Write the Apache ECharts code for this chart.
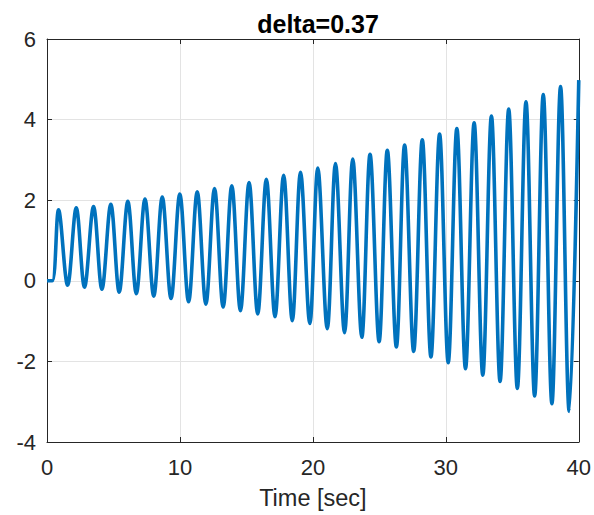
<!DOCTYPE html>
<html>
<head>
<meta charset="utf-8">
<script src="https://cdn.jsdelivr.net/npm/echarts@6/dist/echarts.min.js"></script>
<style>html,body{margin:0;padding:0;background:#fff;}#chart{width:594px;height:515px;}</style>
</head>
<body>
<div id="chart"></div>
<script>
// ---- data ----
const titleText = 'delta=0.37';
const xLabelText = 'Time [sec]';
const xTickValues = [0, 10, 20, 30, 40];
const yTickValues = [-4, -2, 0, 2, 4, 6];

// initial flat part of the response
const startTimes = [0, 0.4];
const startValues = [0, 0];

// local maxima
const peakTimes = [0.87, 2.20, 3.50, 4.80, 6.08, 7.37, 8.67, 9.99, 11.30, 12.60,
  13.90, 15.20, 16.50, 17.80, 19.07, 20.37, 21.70, 23.00, 24.30, 25.60,
  26.90, 28.23, 29.53, 30.83, 32.13, 33.43, 34.73, 36.03, 37.33, 38.63];
const peakValues = [1.76, 1.81, 1.84, 1.90, 1.97, 2.03, 2.08, 2.15, 2.21, 2.29,
  2.36, 2.44, 2.52, 2.62, 2.69, 2.80, 2.91, 3.02, 3.14, 3.24,
  3.37, 3.50, 3.64, 3.78, 3.92, 4.09, 4.26, 4.44, 4.62, 4.82];

// local minima
const troughTimes = [1.55, 2.82, 4.13, 5.43, 6.72, 8.03, 9.33, 10.65, 11.95, 13.25,
  14.55, 15.85, 17.15, 18.45, 19.77, 21.08, 22.38, 23.68, 24.98, 26.28,
  27.58, 28.88, 30.18, 31.48, 32.78, 34.08, 35.38, 36.68, 37.98, 39.28];
const troughValues = [-0.11, -0.16, -0.21, -0.28, -0.32, -0.38, -0.44, -0.52, -0.58, -0.65,
  -0.74, -0.82, -0.89, -0.99, -1.06, -1.19, -1.29, -1.40, -1.51, -1.64,
  -1.75, -1.89, -2.03, -2.18, -2.34, -2.50, -2.67, -2.86, -3.05, -3.24];

// final sample at the end of the simulation
const endTimes = [40];
const endValues = [4.98];

// ---- build series data ----
const pts = [];
startTimes.forEach((t, i) => pts.push([t, startValues[i]]));
peakTimes.forEach((t, i) => pts.push([t, peakValues[i]]));
troughTimes.forEach((t, i) => pts.push([t, troughValues[i]]));
endTimes.forEach((t, i) => pts.push([t, endValues[i]]));
pts.sort((a, b) => a[0] - b[0]);

const FONT = "'Liberation Sans', Arial, Helvetica, sans-serif";
const AX = '#262626';
const GRID = '#e3e3e3';

const xStep = xTickValues[1] - xTickValues[0];
const yStep = yTickValues[1] - yTickValues[0];

const chart = echarts.init(document.getElementById('chart'), null, {renderer: 'svg'});
chart.setOption({
  animation: false,
  backgroundColor: '#ffffff',
  title: {
    text: titleText,
    left: 313,
    textAlign: 'center',
    top: 6,
    textStyle: {fontFamily: FONT, fontSize: 25, fontWeight: 'bold', color: '#000'}
  },
  grid: {left: 47, right: 14, top: 39, bottom: 69, containLabel: false},
  xAxis: [{
    type: 'value',
    min: xTickValues[0], max: xTickValues[xTickValues.length - 1], interval: xStep,
    position: 'bottom',
    name: xLabelText, nameLocation: 'middle', nameGap: 44,
    nameTextStyle: {fontFamily: FONT, fontSize: 23.5, color: AX},
    axisLine: {show: true, onZero: false, lineStyle: {color: AX, width: 1}},
    axisTick: {show: true, inside: true, length: 5, lineStyle: {color: AX}},
    axisLabel: {fontFamily: FONT, fontSize: 22, color: AX, margin: 14},
    splitLine: {show: true, lineStyle: {color: GRID, width: 1}}
  }, {
    type: 'value',
    min: xTickValues[0], max: xTickValues[xTickValues.length - 1], interval: xStep,
    position: 'top',
    axisLine: {show: true, onZero: false, lineStyle: {color: AX, width: 1}},
    axisTick: {show: true, inside: true, length: 5, lineStyle: {color: AX}},
    axisLabel: {show: false},
    splitLine: {show: false}
  }],
  yAxis: [{
    type: 'value',
    min: yTickValues[0], max: yTickValues[yTickValues.length - 1], interval: yStep,
    position: 'left',
    axisLine: {show: true, onZero: false, lineStyle: {color: AX, width: 1}},
    axisTick: {show: true, inside: true, length: 5, lineStyle: {color: AX}},
    axisLabel: {fontFamily: FONT, fontSize: 22, color: AX, margin: 11},
    splitLine: {show: true, lineStyle: {color: GRID, width: 1}}
  }, {
    type: 'value',
    min: yTickValues[0], max: yTickValues[yTickValues.length - 1], interval: yStep,
    position: 'right',
    axisLine: {show: true, onZero: false, lineStyle: {color: AX, width: 1}},
    axisTick: {show: true, inside: true, length: 5, lineStyle: {color: AX}},
    axisLabel: {show: false},
    splitLine: {show: false}
  }],
  series: [{
    type: 'line',
    data: pts,
    xAxisIndex: 0,
    yAxisIndex: 0,
    smooth: 0.35,
    showSymbol: false,
    symbol: 'none',
    clip: true,
    lineStyle: {color: '#0072BD', width: 3.6},
    z: 3
  }]
});
</script>
</body>
</html>
